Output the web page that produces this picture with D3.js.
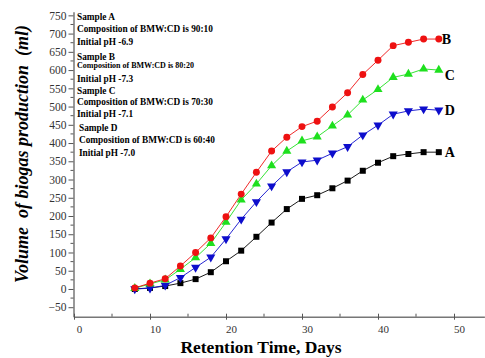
<!DOCTYPE html>
<html>
<head>
<meta charset="utf-8">
<script src="https://cdn.jsdelivr.net/npm/d3@7"></script>
<style>
    html, body { margin: 0; padding: 0; background: #fff; }
    svg { display: block; font-family: "Liberation Serif", "Times New Roman", serif; }
</style>
</head>
<body>
<div id="chart"></div>
<script>
// Retention time (days) shared by all samples
const days = [8, 10, 12, 14, 16, 18, 20, 22, 24, 26, 28, 30, 32, 34, 36, 38, 40, 42, 44, 46, 48];

// Cumulative biogas volume (ml)
const sampleA = [0, 3, 8, 16, 27, 46, 76, 105, 143, 182, 219, 247, 257, 276, 297, 324, 346, 364, 370, 375, 375];
const sampleB = [3, 16, 28, 63, 100, 140, 198, 260, 320, 378, 416, 445, 460, 499, 538, 588, 627, 667, 676, 685, 685];
const sampleC = [2, 14, 25, 54, 86, 125, 183, 244, 288, 338, 378, 406, 417, 447, 477, 518, 547, 580, 589, 603, 600];
const sampleD = [0, 2, 10, 31, 59, 87, 137, 191, 239, 282, 321, 348, 353, 372, 390, 422, 449, 479, 488, 493, 490];

const xTicks = [0, 10, 20, 30, 40, 50];
const yTicks = d3.range(-50, 751, 50);

const notes = [
    'Sample A', 'Composition of BMW:CD is 90:10', 'Initial pH -6.9',
    'Sample B', 'Composition of BMW:CD is 80:20', 'Initial pH -7.3',
    'Sample C', 'Composition of BMW:CD is 70:30', 'Initial pH -7.1',
    'Sample D', 'Composition of BMW:CD is 60:40', 'Initial pH -7.0'
];

const series = [
    { name: 'A', values: sampleA, color: '#000000', symbol: d3.symbolSquare, size: 36, rotate: 0 },
    { name: 'D', values: sampleD, color: '#0d0dcc', symbol: d3.symbolTriangle, size: 36, rotate: 180 },
    { name: 'C', values: sampleC, color: '#1ee01e', symbol: d3.symbolTriangle, size: 36, rotate: 0 },
    { name: 'B', values: sampleB, color: '#ee1111', symbol: d3.symbolCircle, size: 38, rotate: 0 }
];

const width = 485, height = 358;

const svg = d3.select('#chart')
    .append('svg')
    .attr('width', width)
    .attr('height', height);

// Scales
const x = d3.scaleLinear().domain([0, 54]).range([74, 484.4]);
const y = d3.scaleLinear().domain([-76, 760]).range([316.7, 11.7]);

const axisColor = '#555';

// Y axis: major ticks every 50, minor in between
const yAxis = svg.append('g')
    .attr('transform', `translate(${x(0) - 0.5},0)`)
    .call(d3.axisLeft(y).tickValues(yTicks).tickSize(5).tickSizeOuter(0).tickPadding(2));
yAxis.select('.domain').attr('stroke', axisColor).attr('stroke-width', 1.2);
yAxis.selectAll('.tick line').attr('stroke', axisColor);
yAxis.selectAll('.tick text')
    .attr('fill', '#333')
    .style('font-size', '11.5px')
    .style('font-family', '"Liberation Serif", serif');

yAxis.selectAll('.minor')
    .data(d3.range(-25, 751, 50))
    .enter()
    .append('line')
    .attr('class', 'minor')
    .attr('x1', -3).attr('x2', 0)
    .attr('y1', d => y(d)).attr('y2', d => y(d))
    .attr('stroke', axisColor);

// X axis
const xAxis = svg.append('g')
    .attr('transform', `translate(0,${y(-76)})`)
    .call(d3.axisBottom(x).tickValues(xTicks).tickSize(3).tickSizeOuter(0).tickPadding(6));
xAxis.select('.domain').attr('stroke', '#777').attr('stroke-width', 1.5);
xAxis.selectAll('.tick line').attr('stroke', axisColor).attr('y1', -3);
xAxis.selectAll('.tick text')
    .attr('fill', '#333')
    .attr('dx', 5)
    .style('font-size', '11px')
    .style('font-family', '"Liberation Serif", serif');

xAxis.selectAll('.minor')
    .data([5, 15, 25, 35, 45])
    .enter()
    .append('line')
    .attr('class', 'minor')
    .attr('x1', d => x(d)).attr('x2', d => x(d))
    .attr('y1', -3).attr('y2', 0)
    .attr('stroke', axisColor);

// Axis titles
svg.append('text')
    .attr('x', 261)
    .attr('y', 353)
    .attr('text-anchor', 'middle')
    .style('font-size', '17.5px')
    .style('font-weight', 'bold')
    .text('Retention Time, Days');

svg.append('text')
    .attr('transform', 'translate(28,154) rotate(-90)')
    .attr('text-anchor', 'middle')
    .attr('xml:space', 'preserve')
    .style('white-space', 'pre')
    .style('font-size', '18px')
    .style('font-weight', 'bold')
    .style('font-style', 'italic')
    .text('Volume  of biogas production  (ml)');

// Lines and markers
const line = d3.line()
    .x((d, i) => x(days[i]))
    .y(d => y(d));

series.forEach(s => {
    svg.append('path')
        .datum(s.values)
        .attr('fill', 'none')
        .attr('stroke', s.color)
        .attr('stroke-width', 0.9)
        .attr('d', line);

    svg.selectAll(`.pt-${s.name}`)
        .data(s.values)
        .enter()
        .append('path')
        .attr('class', `pt-${s.name}`)
        .attr('d', d3.symbol().type(s.symbol).size(s.size))
        .attr('transform', (d, i) => `translate(${x(days[i])},${y(d)}) rotate(${s.rotate})`)
        .attr('fill', s.color);

    const last = s.values[s.values.length - 1];
    svg.append('text')
        .attr('x', x(days[days.length - 1]) + (s.name === 'B' ? 3 : 6))
        .attr('y', y(last) + (s.name === 'C' ? 10 : 5))
        .style('font-size', '14px')
        .style('font-weight', 'bold')
        .text(s.name);
});

// Annotation block, top-left
const noteY = [20, 32, 45, 60, 68, 82, 94, 105, 117, 131, 143, 156];
svg.append('g')
    .selectAll('text')
    .data(notes)
    .enter()
    .append('text')
    .attr('x', (d, i) => i >= 9 ? 79 : 77)
    .attr('y', (d, i) => noteY[i])
    .style('font-size', (d, i) => i === 4 ? '8px' : '9.3px')
    .style('font-weight', 'bold')
    .text(d => d);
</script>
</body>
</html>
